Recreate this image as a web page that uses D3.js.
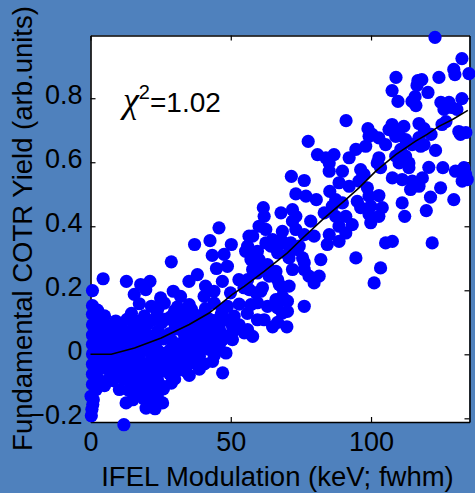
<!DOCTYPE html>
<html><head><meta charset="utf-8">
<script src="https://cdn.jsdelivr.net/npm/d3@7"></script>
<style>html,body{margin:0;padding:0;background:#4f81bd;} svg{display:block}</style>
</head><body>
<script>
// IFEL modulation (keV fwhm) and fundamental COTR yield (arb. units)
const modulation = [
122.8,132.4,129.5,129.9,134.9,124.2,108.9,116.7,118.1,116.4,107.5,120.3,109.6,115.7,114.6,116.0,124.9,127.8,126.0,128.8,132.4,130.6,126.7,125.3,91.1,98.9,100.4,107.5,106.4,108.9,111.7,110.0,117.1,118.9,121.4,131.3,133.8,77.6,117.1,
99.3,102.8,105.2,108.8,112.3,118.9,131.9,80.9,83.9,86.8,85.1,94.6,92.2,98.1,102.8,102.2,103.4,110.6,108.8,112.3,113.5,110.0,113.5,114.7,117.7,123.0,120.6,125.6,130.1,133.7,132.5,71.6,76.2,85.1,89.8,96.3,97.5,88.6,92.2,95.7,107.6,111.1,114.7,118.3,117.1,114.1,124.8,121.2,129.5,73.2,76.8,80.5,85.3,87.4,98.7,99.3,102.8,95.1,96.3,99.9,104.0,102.8,99.3,99.9,111.1,112.0,119.7,61.6,61.9,67.9,72.0,73.2,83.3,86.2,89.8,60.1,62.5,57.8,68.4,73.2,78.5,76.2,79.7,87.4,91.0,93.3,88.6,91.0,85.1,88.6,84.4,105.2,107.6,121.8,
45.8,42.6,37.1,50.2,43.4,47.6,55.3,56.5,28.8,44.9,48.8,38.1,35.1,47.0,52.9,54.7,4.5,12.8,0.7,17.9,21.2,15.6,19.7,25.0,29.5,32.1,41.0,44.0,40.5,49.9,
57.2,64.9,62.5,66.1,60.1,57.8,61.3,63.7,56.6,59.0,61.3,67.3,68.4,70.8,66.1,72.0,70.8,69.0,72.0,74.4,75.6,76.2,77.9,81.5,79.7,76.2,82.1,94.6,103.4,101.1,134.3,133.1,
76.2,68.4,66.7,70.2,70.2,70.0,66.7,64.9,61.9,59.5,63.1,59.5,57.2,60.7,56.0,57.8,54.8,66.7,68.4,56.0,59.5,63.1,66.1,57.2,66.7,70.2,73.8,67.9,71.4,56.0,59.5,64.3,
38.8,47.1,43.5,48.3,42.3,50.6,32.3,29.3,35.8,38.8,37.6,43.5,50.6,25.7,19.8,15.1,12.7,11.9,0.8,0.2,25.7,24.0,27.5,23.4,19.8,16.8,10.3,6.8,4.4,2.0,
0.7,17.4,21.7,26.3,31.0,35.2,44.1,48.8,53.0,
0.7,5.0,14.6,19.2,23.8,28.8,33.5,38.1,42.3,46.6,51.2,55.9,
0.7,3.9,7.5,11.0,15.7,20.3,25.3,30.2,34.5,39.9,45.9,53.0,
0.7,4.3,8.5,12.8,17.4,21.7,28.1,33.5,38.1,44.1,48.8,
0.7,5.3,9.6,13.9,18.2,23.1,31.0,35.9,40.6,45.9,
0.7,4.3,8.5,13.2,17.4,21.7,26.3,35.2,44.1,
0.7,6.0,10.3,14.9,19.2,31.7,40.6,
0.7,9.6,13.9,17.4,21.0,28.1,35.2,
0.7,5.0,14.6,22.8,28.8,
21.0,23.8,
2.5,24.0,30.0,36.0,41.0,47.0,
2.5,9.0,13.0,17.0,22.0,27.0,31.0,36.0,40.0,44.0,49.0,
2.2,6.0,10.0,14.5,19.0,24.0,31.0,36.0,41.0,46.0,51.0,
2.5,7.0,11.5,16.0,20.0,26.0,29.0,34.0,38.0,43.0,47.0,
2.5,6.5,11.0,15.5,19.5,24.0,28.5,33.0,38.0,42.0,46.0,
2.5,8.0,12.0,17.0,22.0,26.0,30.0,33.0,37.0,
2.5,8.0,12.0,16.5,21.0,26.0,31.0,34.0,
3.0,8.0,12.0,16.0,19.5,24.0,30.0,
2.0,13.5,18.0,22.0,26.0,
1.0,19.0,22.0,
0.5,23.0,0.3
];
const cotrYield = [
0.99,0.924,0.890,0.874,0.877,0.865,0.865,0.855,0.858,0.84,0.824,0.818,0.790,0.805,0.790,0.777,0.787,0.787,0.765,0.771,0.799,0.765,0.727,0.718,0.730,0.705,0.687,0.718,0.702,0.702,0.712,0.684,0.721,0.705,0.687,0.696,0.693,0.665,0.677,
0.681,0.676,0.655,0.681,0.671,0.655,0.687,0.624,0.614,0.624,0.598,0.640,0.614,0.650,0.614,0.598,0.583,0.640,0.619,0.619,0.598,0.598,0.583,0.655,0.650,0.637,0.584,0.583,0.572,0.562,0.541,0.556,0.543,0.572,0.572,0.577,0.562,0.536,0.525,0.541,0.551,0.546,0.541,0.551,0.525,0.515,0.520,0.491,0.483,0.501,0.494,0.483,0.509,0.483,0.520,0.494,0.496,0.478,0.458,0.463,0.458,0.431,0.437,0.411,0.473,0.431,0.449,0.458,0.431,0.442,0.452,0.431,0.442,0.463,0.473,0.400,0.390,0.369,0.384,0.390,0.416,0.374,0.369,0.431,0.431,0.405,0.400,0.379,0.374,0.353,0.343,0.348,0.353,0.348,
0.395,0.355,0.343,0.343,0.309,0.312,0.322,0.369,0.289,0.268,0.275,0.249,0.228,0.228,0.233,0.208,0.236,0.228,0.199,0.218,0.228,0.187,0.202,0.176,0.197,0.181,0.213,0.197,0.181,0.192,
0.306,0.358,0.348,0.333,0.296,0.265,0.265,0.244,0.202,0.192,0.208,0.218,0.181,0.213,0.171,0.265,0.301,0.348,0.416,0.338,0.301,0.265,0.244,0.244,0.223,0.150,0.296,0.301,0.270,0.223,0.546,0.583,
0.286,0.208,0.233,0.166,0.134,0.086,0.100,0.086,0.108,0.108,0.150,0.161,0.155,0.197,0.077,0.056,0.067,0.145,0.129,0.233,0.254,0.280,0.259,0.296,0.317,0.312,0.327,0.358,0.348,0.338,0.322,0.338,
-0.046,-0.058,-0.022,0.004,0.030,0.046,0.004,-0.022,-0.027,-0.006,0.088,0.077,0.088,-0.152,-0.168,-0.142,-0.152,-0.220,-0.157,-0.131,-0.100,-0.063,-0.048,-0.038,-0.100,-0.126,-0.110,-0.074,-0.043,-0.069,
0.152,0.158,0.150,0.160,0.148,0.155,0.160,0.150,0.157,
0.125,0.120,0.128,0.120,0.126,0.118,0.127,0.121,0.110,0.125,0.119,0.128,
0.092,0.097,0.090,0.095,0.089,0.094,0.098,0.090,0.094,0.100,0.095,0.092,
0.060,0.064,0.058,0.066,0.061,0.057,0.065,0.060,0.055,0.063,0.058,
0.031,0.027,0.034,0.029,0.033,0.026,0.032,0.028,0.034,0.029,
0.001,-0.003,0.002,-0.004,0.000,-0.002,0.003,0.001,-0.004,
-0.031,-0.036,-0.030,-0.034,-0.029,-0.035,-0.030,
-0.062,-0.066,-0.060,-0.067,-0.063,-0.060,-0.066,
-0.094,-0.098,-0.092,-0.097,-0.090,
-0.125,-0.130,
0.138,0.142,0.136,0.140,0.143,0.137,
0.107,0.104,0.109,0.103,0.106,0.110,0.104,0.108,0.112,0.105,0.107,
0.076,0.073,0.078,0.074,0.077,0.072,0.079,0.075,0.073,0.077,0.074,
0.045,0.047,0.043,0.046,0.044,0.048,0.042,0.046,0.044,0.047,0.045,
0.015,0.013,0.017,0.014,0.016,0.012,0.015,0.017,0.013,0.016,0.014,
-0.017,-0.015,-0.019,-0.016,-0.018,-0.014,-0.017,-0.013,-0.016,
-0.050,-0.048,-0.052,-0.049,-0.051,-0.047,-0.050,-0.053,
-0.080,-0.082,-0.078,-0.081,-0.079,-0.083,-0.077,
-0.110,-0.112,-0.109,-0.113,-0.108,
-0.142,-0.139,-0.143,
-0.172,-0.170,-0.192
];
// fitted curve
const fitX = [0, 7.4, 15.7, 25.2, 35.2, 42.3, 50.6, 54.8, 61.9, 70.2, 75.0, 82.7, 91.0, 95.7, 101.7, 108.8, 115.9, 120.0, 124.2, 128.9, 134.5];
const fitY = [0, 0, 0.020, 0.051, 0.093, 0.129, 0.187, 0.2125, 0.259, 0.317, 0.358, 0.421, 0.483, 0.520, 0.572, 0.624, 0.666, 0.687, 0.712, 0.733, 0.762];
const xTicks = [0, 50, 100];
const yTicks = [-0.2, 0, 0.2, 0.4, 0.6, 0.8];
const xLabel = "IFEL Modulation (keV; fwhm)";
const yLabel = "Fundamental COTR Yield (arb.units)";
const chiValue = "=1.02";

const W = 475, H = 493;
const L = 90.5, R = 469.5, T = 35.5, B = 422;
const FONT = "'Liberation Sans', Arial, Helvetica, sans-serif";

const svg = d3.select("body").append("svg").attr("width", W).attr("height", H);
svg.append("rect").attr("width", W).attr("height", H).attr("fill", "#4f81bd");

const x = d3.scaleLinear().domain([0, 135.1]).range([L, R]);
const y = d3.scaleLinear().domain([-0.2115, 0.996]).range([B, T]);

svg.append("rect").attr("x", L).attr("y", T).attr("width", R - L).attr("height", B - T).attr("fill", "#ffffff");

function styleAxis(g, showText) {
  g.select(".domain").attr("stroke", "#000").attr("stroke-width", 1.6);
  g.selectAll(".tick line").attr("stroke", "#000").attr("stroke-width", 1.2);
  g.selectAll("text").attr("fill", "#000").style("font-family", FONT).style("font-size", "27px");
  if (!showText) g.selectAll("text").remove();
}

const fmt = d => (d === 0 ? "0" : d3.format(".1f")(d));
svg.append("g").attr("transform", `translate(0,${B})`)
  .call(d3.axisBottom(x).tickValues(xTicks).tickSizeInner(-5).tickSizeOuter(0).tickPadding(10).tickFormat(d3.format("d")))
  .call(g => styleAxis(g, true));
svg.append("g").attr("transform", `translate(0,${T})`)
  .call(d3.axisTop(x).tickValues(xTicks).tickSizeInner(-5).tickSizeOuter(0))
  .call(g => styleAxis(g, false));
const ly = svg.append("g").attr("transform", `translate(${L},0)`)
  .call(d3.axisLeft(y).tickValues(yTicks).tickSizeInner(-5).tickSizeOuter(0).tickPadding(8).tickFormat(fmt))
  .call(g => styleAxis(g, true));
ly.selectAll("text").attr("dy", "0.18em");
svg.append("g").attr("transform", `translate(${R},0)`)
  .call(d3.axisRight(y).tickValues(yTicks).tickSizeInner(-5).tickSizeOuter(0))
  .call(g => styleAxis(g, false));

const pts = modulation.map((m, i) => [m, cotrYield[i]]);
svg.append("g").selectAll("circle").data(pts).join("circle")
  .attr("cx", d => x(d[0])).attr("cy", d => y(d[1])).attr("r", 6.6).attr("fill", "#0000ff");

const fit = fitX.map((v, i) => [v, fitY[i]]);
svg.append("path").datum(fit)
  .attr("d", d3.line().x(d => x(d[0])).y(d => y(d[1])))
  .attr("fill", "none").attr("stroke", "#000").attr("stroke-width", 1.6);

const chi = svg.append("text").attr("x", 123).attr("y", 112).attr("fill", "#000").style("font-family", FONT);
chi.append("tspan").text("χ").style("font-size", "36px").style("font-family", "'Liberation Serif', 'DejaVu Serif', serif").style("font-style", "italic");
chi.append("tspan").text("2").style("font-size", "20px").attr("dy", -13);
chi.append("tspan").text(chiValue).style("font-size", "28px").attr("dy", 13);

svg.append("text").attr("x", 277.5).attr("y", 486)
  .attr("text-anchor", "middle").attr("fill", "#000")
  .style("font-family", FONT).style("font-size", "27.5px").text(xLabel);

svg.append("text").attr("transform", "translate(32,228.5) rotate(-90)")
  .attr("text-anchor", "middle").attr("fill", "#000")
  .style("font-family", FONT).style("font-size", "27.5px").text(yLabel);
</script>
</body></html>
